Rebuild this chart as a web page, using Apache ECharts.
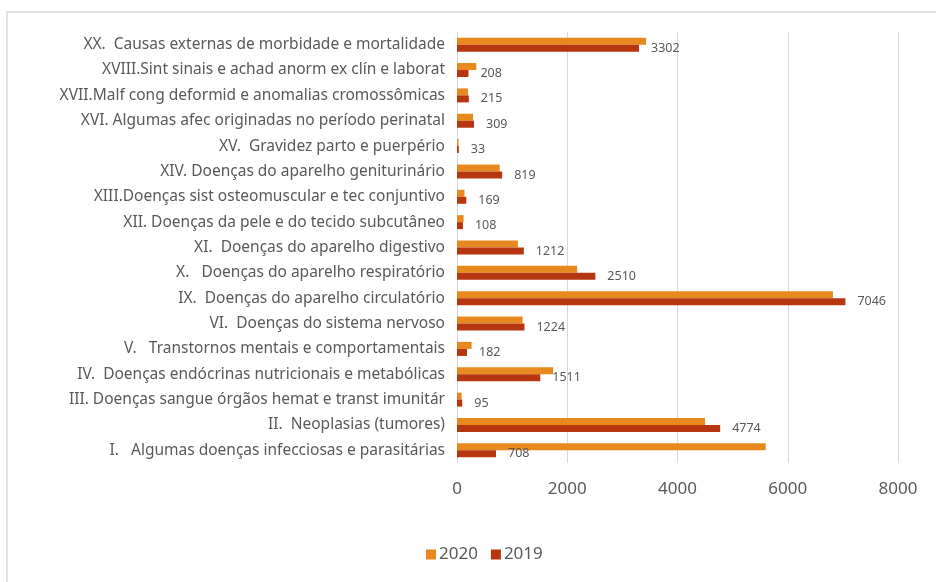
<!DOCTYPE html>
<html>
<head>
<meta charset="utf-8">
<script src="https://cdn.jsdelivr.net/npm/echarts@6/dist/echarts.min.js"></script>
<style>
  html, body { margin: 0; padding: 0; background: #ffffff; }
  #chart { width: 936px; height: 582px; }
</style>
</head>
<body>
<div id="chart"></div>
<script>
// Internações por capítulo CID-10, 2020 vs 2019 (bottom to top: I ... XX)
const categories = [
  'I.   Algumas doenças infecciosas e parasitárias',
  'II.  Neoplasias (tumores)',
  'III. Doenças sangue órgãos hemat e transt imunitár',
  'IV.  Doenças endócrinas nutricionais e metabólicas',
  'V.   Transtornos mentais e comportamentais',
  'VI.  Doenças do sistema nervoso',
  'IX.  Doenças do aparelho circulatório',
  'X.   Doenças do aparelho respiratório',
  'XI.  Doenças do aparelho digestivo',
  'XII. Doenças da pele e do tecido subcutâneo',
  'XIII.Doenças sist osteomuscular e tec conjuntivo',
  'XIV. Doenças do aparelho geniturinário',
  'XV.  Gravidez parto e puerpério',
  'XVI. Algumas afec originadas no período perinatal',
  'XVII.Malf cong deformid e anomalias cromossômicas',
  'XVIII.Sint sinais e achad anorm ex clín e laborat',
  'XX.  Causas externas de morbidade e mortalidade'
];
const values2020 = [5600, 4500, 85, 1745, 265, 1190, 6820, 2180, 1105, 120, 135, 775, 28, 290, 200, 350, 3430];
const values2019 = [708, 4774, 95, 1511, 182, 1224, 7046, 2510, 1212, 108, 169, 819, 33, 309, 215, 208, 3302];
const xTicks = { min: 0, max: 8000, interval: 2000 };

const textColor = '#595959';
const fontFamily = "'Noto Sans', 'DejaVu Sans', sans-serif";

const chart = echarts.init(document.getElementById('chart'), null, { renderer: 'canvas' });
chart.setOption({
  animation: false,
  backgroundColor: '#ffffff',
  textStyle: { fontFamily: fontFamily, color: textColor },
  graphic: [{
    type: 'rect',
    shape: { x: 7, y: 12, width: 940, height: 580 },
    style: { fill: 'none', stroke: '#d9d9d9', lineWidth: 1.5 },
    silent: true
  }],
  grid: { left: 457, right: 38, top: 32, bottom: 119, containLabel: false },
  legend: {
    data: ['2020', '2019'],
    bottom: 14,
    left: 421,
    itemWidth: 10,
    itemHeight: 10,
    itemGap: 13,
    icon: 'rect',
    textStyle: { fontSize: 17, color: textColor, fontFamily: fontFamily, padding: [0, 0, 0, -2] }
  },
  xAxis: {
    type: 'value',
    min: xTicks.min,
    max: xTicks.max,
    interval: xTicks.interval,
    axisLine: { show: false },
    axisTick: { show: false },
    axisLabel: { fontSize: 17, color: textColor, margin: 18, formatter: (v) => String(v) },
    splitLine: { show: true, lineStyle: { color: '#d9d9d9', width: 1 } }
  },
  yAxis: {
    type: 'category',
    data: categories,
    axisLine: { show: false },
    axisTick: { show: false },
    axisLabel: { fontSize: 15.5, color: textColor, margin: 12 }
  },
  series: [
    {
      name: '2020',
      type: 'bar',
      data: values2020,
      itemStyle: { color: '#E8891F' },
      barWidth: 7,
      barGap: '0%'
    },
    {
      name: '2019',
      type: 'bar',
      data: values2019,
      itemStyle: { color: '#B5360F' },
      barWidth: 7,
      barGap: '0%',
      label: {
        show: true,
        position: 'right',
        distance: 12,
        fontSize: 12.5,
        color: textColor
      }
    }
  ]
});
</script>
</body>
</html>
